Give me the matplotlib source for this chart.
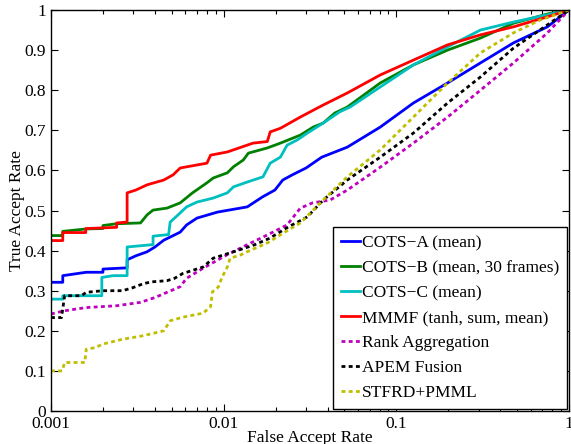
import matplotlib
matplotlib.use('Agg')
import matplotlib.pyplot as plt
from matplotlib.ticker import FixedLocator, LogLocator, NullFormatter

plt.rcParams['font.family'] = ['Liberation Serif', 'DejaVu Serif']
plt.rcParams['mathtext.fontset'] = 'stix'

# ROC curves (FAR, TAR)
cots_a_far = [0.001, 0.00117, 0.00117, 0.0016, 0.002, 0.002, 0.00276, 0.00276, 0.0031, 0.0036,
              0.004, 0.0045, 0.0056, 0.0061, 0.007, 0.0092, 0.0137, 0.0168, 0.0198, 0.022,
              0.025, 0.03, 0.037, 0.052, 0.0807, 0.1255, 0.198, 0.307, 0.477, 0.75, 1]
cots_a_tar = [0.321, 0.321, 0.3375, 0.346, 0.346, 0.354, 0.357, 0.377, 0.387, 0.397,
              0.409, 0.426, 0.446, 0.464, 0.481, 0.496, 0.509, 0.534, 0.551, 0.576,
              0.589, 0.606, 0.633, 0.658, 0.708, 0.768, 0.818, 0.868, 0.918, 0.958, 1]

cots_b_far = [0.001, 0.00117, 0.00117, 0.0016, 0.002, 0.002, 0.0024, 0.0033, 0.0036, 0.0039,
              0.0047, 0.0056, 0.0066, 0.008, 0.0087, 0.0105, 0.0114, 0.013, 0.0139, 0.0179,
              0.0213, 0.0278, 0.033, 0.0377, 0.044, 0.052, 0.0807, 0.1255, 0.198, 0.307,
              0.477, 0.75, 1]
cots_b_tar = [0.4375, 0.4375, 0.448, 0.454, 0.455, 0.4625, 0.467, 0.469, 0.489, 0.501,
              0.506, 0.519, 0.544, 0.569, 0.581, 0.594, 0.609, 0.626, 0.643, 0.656,
              0.668, 0.688, 0.708, 0.718, 0.743, 0.758, 0.818, 0.863, 0.9, 0.93,
              0.967, 0.99, 1]

cots_c_far = [0.001, 0.00117, 0.00117, 0.00197, 0.00197, 0.00229, 0.00276, 0.00276, 0.0039, 0.0039,
              0.0048, 0.0049, 0.0056, 0.0061, 0.007, 0.0087, 0.0105, 0.0114, 0.0137, 0.0169,
              0.0186, 0.0213, 0.0233, 0.0267, 0.0305, 0.0377, 0.047, 0.054, 0.0807, 0.1255,
              0.198, 0.307, 0.477, 0.75, 1]
cots_c_tar = [0.279, 0.279, 0.2875, 0.2875, 0.333, 0.3375, 0.3375, 0.409, 0.415, 0.436,
              0.44, 0.471, 0.494, 0.509, 0.521, 0.531, 0.544, 0.559, 0.571, 0.584,
              0.618, 0.633, 0.663, 0.676, 0.693, 0.718, 0.746, 0.758, 0.808, 0.863,
              0.908, 0.95, 0.97, 0.988, 1]

mmmf_far = [0.001, 0.00117, 0.00117, 0.00159, 0.00159, 0.0024, 0.0024, 0.00276, 0.00276, 0.0031,
            0.0036, 0.0045, 0.0051, 0.0056, 0.008, 0.0084, 0.0105, 0.0148, 0.0179, 0.0186,
            0.0213, 0.0278, 0.033, 0.0377, 0.052, 0.0807, 0.1255, 0.198, 0.307, 0.477,
            0.75, 1]
mmmf_tar = [0.425, 0.425, 0.445, 0.445, 0.455, 0.458, 0.469, 0.471, 0.544, 0.551,
            0.564, 0.576, 0.589, 0.606, 0.618, 0.638, 0.646, 0.668, 0.672, 0.696,
            0.705, 0.733, 0.75, 0.763, 0.793, 0.838, 0.875, 0.913, 0.938, 0.958,
            0.983, 1]

rank_far = [0.001, 0.0012, 0.0016, 0.0024, 0.0033, 0.004, 0.0047, 0.0056, 0.0061, 0.0076,
            0.0104, 0.0136, 0.0179, 0.0233, 0.0278, 0.0327, 0.0413, 0.052, 0.0807, 0.1255,
            0.198, 0.307, 0.477, 0.75, 1]
rank_tar = [0.242, 0.25, 0.258, 0.2625, 0.271, 0.283, 0.296, 0.31, 0.331, 0.356,
            0.389, 0.414, 0.439, 0.464, 0.506, 0.519, 0.526, 0.551, 0.608, 0.668,
            0.733, 0.8, 0.868, 0.943, 1]

apem_far = [0.001, 0.00115, 0.0012, 0.0015, 0.0016, 0.002, 0.0026, 0.003, 0.0034, 0.0038,
            0.0047, 0.0052, 0.0058, 0.0076, 0.0087, 0.0114, 0.015, 0.0185, 0.0237, 0.0305,
            0.0377, 0.052, 0.0807, 0.1255, 0.198, 0.307, 0.477, 0.75, 1]
apem_tar = [0.233, 0.233, 0.2875, 0.2875, 0.296, 0.3, 0.3, 0.308, 0.317, 0.322,
            0.325, 0.331, 0.343, 0.359, 0.381, 0.397, 0.414, 0.431, 0.459, 0.484,
            0.526, 0.576, 0.633, 0.693, 0.768, 0.833, 0.905, 0.963, 1]

stfrd_far = [0.001, 0.00116, 0.0012, 0.00157, 0.0016, 0.0018, 0.002, 0.0026, 0.0034, 0.0045,
             0.0049, 0.0058, 0.0076, 0.0084, 0.0086, 0.0093, 0.0098, 0.0105, 0.0109, 0.0125,
             0.0143, 0.0179, 0.0222, 0.0278, 0.0318, 0.0377, 0.052, 0.0807, 0.1255, 0.198,
             0.307, 0.477, 0.68, 1]
stfrd_tar = [0.1, 0.1, 0.121, 0.121, 0.154, 0.158, 0.167, 0.179, 0.1875, 0.2,
             0.225, 0.234, 0.244, 0.26, 0.297, 0.309, 0.334, 0.359, 0.381, 0.389,
             0.401, 0.419, 0.444, 0.469, 0.494, 0.526, 0.584, 0.651, 0.733, 0.818,
             0.893, 0.943, 0.975, 1]

y_ticks = [0, 0.1, 0.2, 0.3, 0.4, 0.5, 0.6, 0.7, 0.8, 0.9, 1]
y_tick_labels = ['0', '0.1', '0.2', '0.3', '0.4', '0.5', '0.6', '0.7', '0.8', '0.9', '1']
x_ticks = [0.001, 0.01, 0.1, 1]
x_tick_labels = ['0.001', '0.01', '0.1', '1']

fig = plt.figure(figsize=(5.71, 4.44), dpi=100)
ax = fig.add_axes([0.0893, 0.0743, 0.9072, 0.9032])

solid = '-'
dotted = (0, (1.4, 1.2))
lw = 2.0
ax.plot(cots_a_far, cots_a_tar, color=(0, 0, 1), lw=lw, ls=solid, label='COTS\u2212A (mean)')
ax.plot(cots_b_far, cots_b_tar, color=(0, 0.5, 0), lw=lw, ls=solid, label='COTS\u2212B (mean, 30 frames)')
ax.plot(cots_c_far, cots_c_tar, color=(0, 0.75, 0.75), lw=lw, ls=solid, label='COTS\u2212C (mean)')
ax.plot(mmmf_far, mmmf_tar, color=(1, 0, 0), lw=lw, ls=solid, label='MMMF (tanh, sum, mean)')
ax.plot(rank_far, rank_tar, color=(0.75, 0, 0.75), lw=lw, ls=dotted, label='Rank Aggregation')
ax.plot(apem_far, apem_tar, color='black', lw=lw, ls=dotted, label='APEM Fusion')
ax.plot(stfrd_far, stfrd_tar, color=(0.75, 0.75, 0), lw=lw, ls=dotted, label='STFRD+PMML')

ax.set_xscale('log')
ax.set_xlim(0.001, 1)
ax.set_ylim(0, 1)
ax.xaxis.set_major_locator(FixedLocator(x_ticks))
ax.set_xticklabels(x_tick_labels)
ax.xaxis.set_minor_locator(LogLocator(base=10, subs=range(2, 10)))
ax.xaxis.set_minor_formatter(NullFormatter())
ax.set_yticks(y_ticks)
ax.set_yticklabels(y_tick_labels)
ax.tick_params(which='both', direction='in', top=True, right=True, labelsize=12.5, width=0.8)
ax.tick_params(which='major', length=5)
ax.tick_params(which='minor', length=3)
for s in ax.spines.values():
    s.set_linewidth(1.0)

ax.set_xlabel('False Accept Rate', fontsize=12.5, labelpad=-1.5)
ax.set_ylabel('True Accept Rate', fontsize=12.5, labelpad=0)

leg = ax.legend(loc='lower right', fontsize=12.5, fancybox=False, framealpha=1,
                edgecolor='black', borderaxespad=0.1, handlelength=1.1, handletextpad=0.12,
                labelspacing=0.51, borderpad=0.45)
leg.get_frame().set_linewidth(1.0)

fig.savefig('out.png', dpi=100)
